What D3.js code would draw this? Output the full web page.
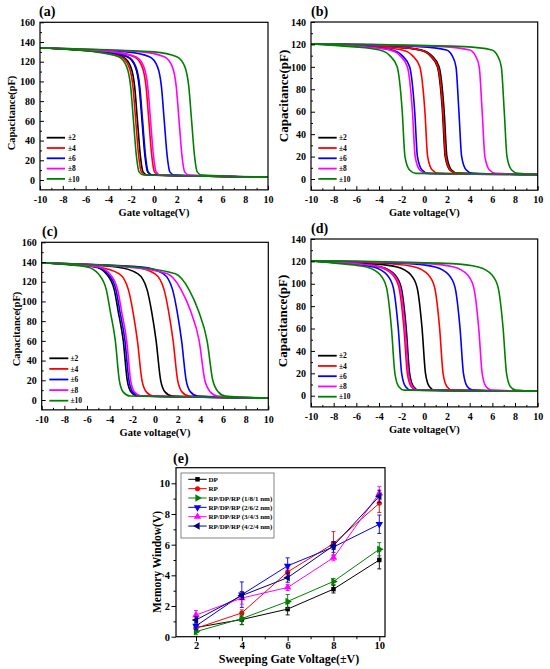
<!DOCTYPE html>
<html><head><meta charset="utf-8">
<script src="https://cdn.jsdelivr.net/npm/d3@7"></script>
<style>
body{margin:0;background:#fff}
text{font-family:"Liberation Serif","Times New Roman",serif;font-weight:bold;fill:#000}
</style>
</head><body>
<svg id="c" width="550" height="669"></svg>
<script>
// ---------------- DATA ----------------
const sweepLabels = ["±2","±4","±6","±8","±10"];
const xTickLabels = [-10,-8,-6,-4,-2,0,2,4,6,8,10];

// Capacitance levels (pF) at which each C-V curve's gate voltage is read
const capA = [134,130,125,115,95,60,25,8,5,3];
const voltA = [
  [[-10,-4.75,-2.75,-2.05,-1.7,-1.45,-1.2,-0.95,-0.55,10],[-10,-4.35,-2.35,-1.65,-1.3,-1.05,-0.8,-0.55,-0.15,10]],
  [[-10,-4.9,-2.9,-2.2,-1.85,-1.6,-1.35,-1.1,-0.7,10],[-10,-3.75,-1.75,-1.05,-0.7,-0.45,-0.2,0.05,0.45,10]],
  [[-10,-4.3,-2.3,-1.6,-1.25,-1.0,-0.75,-0.5,-0.1,10],[-10,-2.4,-0.4,0.3,0.65,0.9,1.15,1.4,1.8,10]],
  [[-10,-3.6,-1.6,-0.9,-0.55,-0.3,-0.05,0.2,0.6,10],[-10,-1.1,0.9,1.6,1.95,2.2,2.45,2.7,3.1,10]],
  [[-10,-5.1,-3.1,-2.4,-2.05,-1.8,-1.55,-1.3,-0.9,10],[-10,0.0,2.0,2.7,3.05,3.3,3.55,3.8,4.2,10]]
];

const capB = [120.5,118,115,110,100,60,20,8,5,4];
const voltB = [
  [[-10,-2.9,-0.4,0.5,1.15,1.6,1.84,2.25,2.8,10],[-10,-2.75,-0.25,0.65,1.3,1.75,1.99,2.4,2.95,10]],
  [[-10,-4.45,-1.95,-1.05,-0.4,0.05,0.29,0.7,1.25,10],[-10,-2.85,-0.35,0.55,1.2,1.65,1.89,2.3,2.85,10]],
  [[-10,-5.35,-2.85,-1.95,-1.3,-0.85,-0.61,-0.2,0.35,10],[-10,-0.45,1.95,2.45,2.79,3.05,3.29,3.7,4.25,10]],
  [[-10,-5.55,-3.05,-2.15,-1.5,-1.05,-0.81,-0.4,0.15,10],[-10,1.6,4.0,4.5,4.84,5.1,5.34,5.75,6.3,10]],
  [[-10,-6.45,-3.95,-3.05,-2.4,-1.95,-1.71,-1.3,-0.75,10],[-10,3.55,5.95,6.45,6.79,7.05,7.29,7.7,8.25,10]]
];

const capC = [139,135,128,112,90,60,20,8,4,2];
const voltC = [
  [[-10,-5.3,-4.3,-3.6,-3.25,-2.8,-2.45,-2.1,-1.5,10],[-10,-3.4,-1.5,-0.7,-0.3,0.1,0.5,0.9,1.5,10]],
  [[-10,-5.05,-3.15,-2.35,-1.95,-1.55,-1.15,-0.75,-0.15,10],[-10,-1.9,0.0,0.8,1.2,1.6,2.0,2.4,3.0,10]],
  [[-10,-5.15,-4.15,-3.45,-3.1,-2.65,-2.3,-1.95,-1.35,10],[-10,-1.15,0.75,1.55,1.95,2.35,2.75,3.15,3.75,10]],
  [[-10,-5.0,-4.0,-3.3,-2.95,-2.5,-2.15,-1.8,-1.2,10],[-10,-2.6,1.1,2.3,3.15,3.9,4.4,4.9,5.5,10]],
  [[-10,-6.0,-5.0,-4.3,-3.95,-3.5,-3.15,-2.8,-2.2,10],[-10,-1.9,1.8,3.0,3.85,4.6,5.1,5.6,6.2,10]]
];

const capD = [120.5,118,115,108,97,60,20,8,5,4];
const voltD = [
  [[-10,-6.1,-3.8,-2.6,-2.05,-1.6,-1.3,-0.95,-0.5,10],[-10,-4.7,-2.4,-1.2,-0.65,-0.2,0.1,0.45,0.9,10]],
  [[-10,-6.3,-4.0,-2.8,-2.25,-1.8,-1.5,-1.15,-0.7,10],[-10,-3.15,-0.85,0.35,0.9,1.35,1.65,2.0,2.45,10]],
  [[-10,-6.8,-4.5,-3.3,-2.75,-2.3,-2.0,-1.65,-1.2,10],[-10,-1.35,0.95,2.15,2.7,3.15,3.45,3.8,4.25,10]],
  [[-10,-6.2,-3.9,-2.7,-2.15,-1.7,-1.4,-1.05,-0.6,10],[-10,0.3,2.6,3.8,4.35,4.8,5.1,5.45,5.9,10]],
  [[-10,-7.4,-5.1,-3.9,-3.35,-2.9,-2.6,-2.25,-1.8,10],[-10,2.45,4.75,5.95,6.5,6.95,7.25,7.6,8.05,10]]
];

// Panel (e): memory window vs sweeping gate voltage
const sweepV = [2,4,6,8,10];
const seriesNames = ["DP","RP","RP/DP/RP (1/8/1 nm)","RP/DP/RP (2/6/2 nm)","RP/DP/RP (3/4/3 nm)","RP/DP/RP (4/2/4 nm)"];
const mwDP  = [0.6,1.12,1.8,3.1,5.0];   const errDP  = [0.2,0.32,0.38,0.25,0.58];
const mwRP  = [0.55,1.55,4.22,6.07,8.7]; const errRP  = [0.2,0.2,0.2,0.78,0.6];
const mw181 = [0.33,1.18,2.3,3.6,5.7];  const err181 = [0.2,0.4,0.45,0.2,0.43];
const mw262 = [0.7,2.74,4.62,5.85,7.33]; const err262 = [0.25,0.83,0.52,0.35,0.6];
const mw343 = [1.41,2.52,3.21,5.15,9.35]; const err343 = [0.3,0.4,0.2,0.2,0.43];
const mw424 = [1.09,2.68,3.85,5.93,9.15]; const err424 = [0.2,0.25,0.3,0.25,0.4];

// ---------------- STYLE / LAYOUT ----------------
const cvColors = ["#000000","#ff0000","#0000ff","#ff00ff","#008000"];
const svg = d3.select("#c");
const fmt = d => String(d);

const panels = [
  {id:"a", caps:capA, volts:voltA, yMax:160, x0:40, x1:268, y0:180, yT:22.3, label:"(a)", lx:39, ly:15.5,
   ytx:15, yty:113, ytSize:10.5, leg:{x0:46.7,x1:65,tx:68,y0:137.7,dy:10.3}},
  {id:"b", caps:capB, volts:voltB, yMax:140, x0:311, x1:537.7, y0:179, yT:22, label:"(b)", lx:311, ly:15.5,
   ytx:288, yty:96, ytSize:13, leg:{x0:318.3,x1:336.7,tx:339,y0:137.7,dy:10.3}},
  {id:"c", caps:capC, volts:voltC, yMax:160, x0:41.7, x1:268.3, y0:400, yT:242.3, label:"(c)", lx:42, ly:236,
   ytx:20, yty:329, ytSize:10.5, leg:{x0:49.3,x1:68.3,tx:70.5,y0:358.3,dy:10.6}},
  {id:"d", caps:capD, volts:voltD, yMax:140, x0:311, x1:537.7, y0:395.7, yT:239, label:"(d)", lx:311, ly:232.5,
   ytx:287, yty:321, ytSize:13, leg:{x0:318,x1:336.7,tx:339,y0:355.7,dy:10.25}}
];

panels.forEach(p => {
  const x = d3.scaleLinear().domain([-10,10]).range([p.x0,p.x1]);
  const y = d3.scaleLinear().domain([0,p.yMax]).range([p.y0,p.yT]);
  const top = y(p.yMax), bot = y(-10);
  const g = svg.append("g");
  const clipId = "clip"+p.id;
  svg.append("clipPath").attr("id",clipId).append("rect")
     .attr("x",p.x0).attr("y",top).attr("width",p.x1-p.x0).attr("height",bot-top);
  const line = d3.line().x(d=>x(d[0])).y(d=>y(d[1])).curve(d3.curveMonotoneX);
  const cg = g.append("g").attr("clip-path","url(#"+clipId+")");
  p.volts.forEach((pair,si) => pair.forEach(v => {
    const pts = v.map((vv,i)=>[vv,p.caps[i]]);
    cg.append("path").attr("d",line(pts)).attr("fill","none")
      .attr("stroke",cvColors[si]).attr("stroke-width",1.6);
  }));
  // axes
  const xa = g.append("g").attr("transform",`translate(0,${bot})`)
    .call(d3.axisBottom(x).tickValues(xTickLabels).tickSize(-4).tickPadding(5.7).tickFormat(fmt));
  const xm = g.append("g").attr("transform",`translate(0,${bot})`)
    .call(d3.axisBottom(x).tickValues(d3.range(-9,10,2)).tickSize(-2).tickFormat(""));
  const ya = g.append("g").attr("transform",`translate(${p.x0},0)`)
    .call(d3.axisLeft(y).tickValues(d3.range(0,p.yMax+1,20)).tickSize(-4).tickPadding(5).tickFormat(fmt));
  const ym = g.append("g").attr("transform",`translate(${p.x0},0)`)
    .call(d3.axisLeft(y).tickValues(d3.range(10,p.yMax,20)).tickSize(-2).tickFormat(""));
  [xa,xm,ya,ym].forEach(a=>{
    a.select(".domain").remove();
    a.selectAll("line").attr("stroke","#000").attr("stroke-width",1);
    a.selectAll("text").style("font-size","10px").style("font-family",'"Liberation Serif",serif').style("font-weight","bold");
  });
  g.append("rect").attr("x",p.x0).attr("y",top).attr("width",p.x1-p.x0).attr("height",bot-top)
    .attr("fill","none").attr("stroke","#000").attr("stroke-width",1.2);
  // titles
  g.append("text").attr("x",(p.x0+p.x1)/2).attr("y",bot+25.7).attr("text-anchor","middle")
    .style("font-size","10.5px").text("Gate voltage(V)");
  g.append("text").attr("transform",`translate(${p.ytx},${p.yty}) rotate(-90)`).attr("text-anchor","middle")
    .style("font-size",p.ytSize+"px").text("Capacitance(pF)");
  g.append("text").attr("x",p.lx).attr("y",p.ly).style("font-size","14px").text(p.label);
  // legend
  sweepLabels.forEach((s,i)=>{
    const yy = p.leg.y0 + i*p.leg.dy;
    g.append("line").attr("x1",p.leg.x0).attr("x2",p.leg.x1).attr("y1",yy).attr("y2",yy)
      .attr("stroke",cvColors[i]).attr("stroke-width",1.8);
    g.append("text").attr("x",p.leg.tx).attr("y",yy+2.7).style("font-size","7.5px").text(s);
  });
});

// ---------------- PANEL (e) ----------------
(function(){
  const eColors = ["#000000","#ff0000","#008000","#0000ff","#ff00ff","#000080"];
  const eShapes = [["square",0],["circle",0],["triangle",90],["triangle",180],["triangle",0],["triangle",-90]];
  const vals = [mwDP,mwRP,mw181,mw262,mw343,mw424];
  const errs = [errDP,errRP,err181,err262,err343,err424];
  const L=176, R=385, T=467.7, B=636.7;
  const x = d3.scaleLinear().domain([2,10]).range([196,379.3]);
  const y = d3.scaleLinear().domain([0,10]).range([B,483.3]);
  const g = svg.append("g");
  const sym = (s)=> d3.symbol().type(s[0]==="square"?d3.symbolSquare:s[0]==="circle"?d3.symbolCircle:d3.symbolTriangle)
                     .size(s[0]==="triangle"?24:20)();
  vals.forEach((v,si)=>{
    const pts = sweepV.map((sv,i)=>[sv,v[i],errs[si][i]]);
    const sg = g.append("g");
    sg.append("path").attr("d",d3.line().x(d=>x(d[0])).y(d=>y(d[1]))(pts))
      .attr("fill","none").attr("stroke",eColors[si]).attr("stroke-width",1);
    pts.forEach(d=>{
      const xx=x(d[0]), y1=y(d[1]+d[2]), y2=y(d[1]-d[2]);
      sg.append("line").attr("x1",xx).attr("x2",xx).attr("y1",y1).attr("y2",y2).attr("stroke",eColors[si]).attr("stroke-width",0.9);
      [y1,y2].forEach(yy=>sg.append("line").attr("x1",xx-2).attr("x2",xx+2).attr("y1",yy).attr("y2",yy).attr("stroke",eColors[si]).attr("stroke-width",0.9));
      sg.append("path").attr("d",sym(eShapes[si]))
        .attr("transform",`translate(${xx},${y(d[1])}) rotate(${eShapes[si][1]})`).attr("fill",eColors[si]);
    });
  });
  // axes
  const xa = g.append("g").attr("transform",`translate(0,${B})`)
    .call(d3.axisBottom(x).tickValues(sweepV).tickSize(4.5).tickPadding(0.3).tickFormat(fmt));
  const xm = g.append("g").attr("transform",`translate(0,${B})`)
    .call(d3.axisBottom(x).tickValues([3,5,7,9]).tickSize(2.5).tickFormat(""));
  const ya = g.append("g").attr("transform",`translate(${L},0)`)
    .call(d3.axisLeft(y).tickValues([0,2,4,6,8,10]).tickSize(4.5).tickPadding(1.5).tickFormat(fmt));
  const ym = g.append("g").attr("transform",`translate(${L},0)`)
    .call(d3.axisLeft(y).tickValues([1,3,5,7,9]).tickSize(2.5).tickFormat(""));
  [xa,xm,ya,ym].forEach(a=>{
    a.select(".domain").remove();
    a.selectAll("line").attr("stroke","#000").attr("stroke-width",1);
    a.selectAll("text").style("font-size","10.5px").style("font-family",'"Liberation Serif",serif').style("font-weight","bold");
  });
  g.append("rect").attr("x",L).attr("y",T).attr("width",R-L).attr("height",B-T)
    .attr("fill","none").attr("stroke","#000").attr("stroke-width",1.2);
  g.append("text").attr("x",289).attr("y",663).attr("text-anchor","middle").style("font-size","12px").text("Sweeping Gate Voltage(±V)");
  g.append("text").attr("transform","translate(161,562) rotate(-90)").attr("text-anchor","middle").style("font-size","11.5px").text("Memory Window(V)");
  g.append("text").attr("x",173).attr("y",462.5).style("font-size","14px").text("(e)");
  // legend
  g.append("rect").attr("x",181).attr("y",473).attr("width",93).attr("height",65)
    .attr("fill","#fff").attr("stroke","#666").attr("stroke-width",0.8);
  seriesNames.forEach((n,i)=>{
    const yy = 479.3 + i*9.35;
    g.append("line").attr("x1",188.3).attr("x2",206.7).attr("y1",yy).attr("y2",yy).attr("stroke",eColors[i]).attr("stroke-width",1);
    g.append("path").attr("d",sym(eShapes[i])).attr("transform",`translate(197.5,${yy}) rotate(${eShapes[i][1]})`).attr("fill",eColors[i]);
    g.append("text").attr("x",208.5).attr("y",yy+2.5).style("font-size","7px").text(n);
  });
})();
</script>
</body></html>
